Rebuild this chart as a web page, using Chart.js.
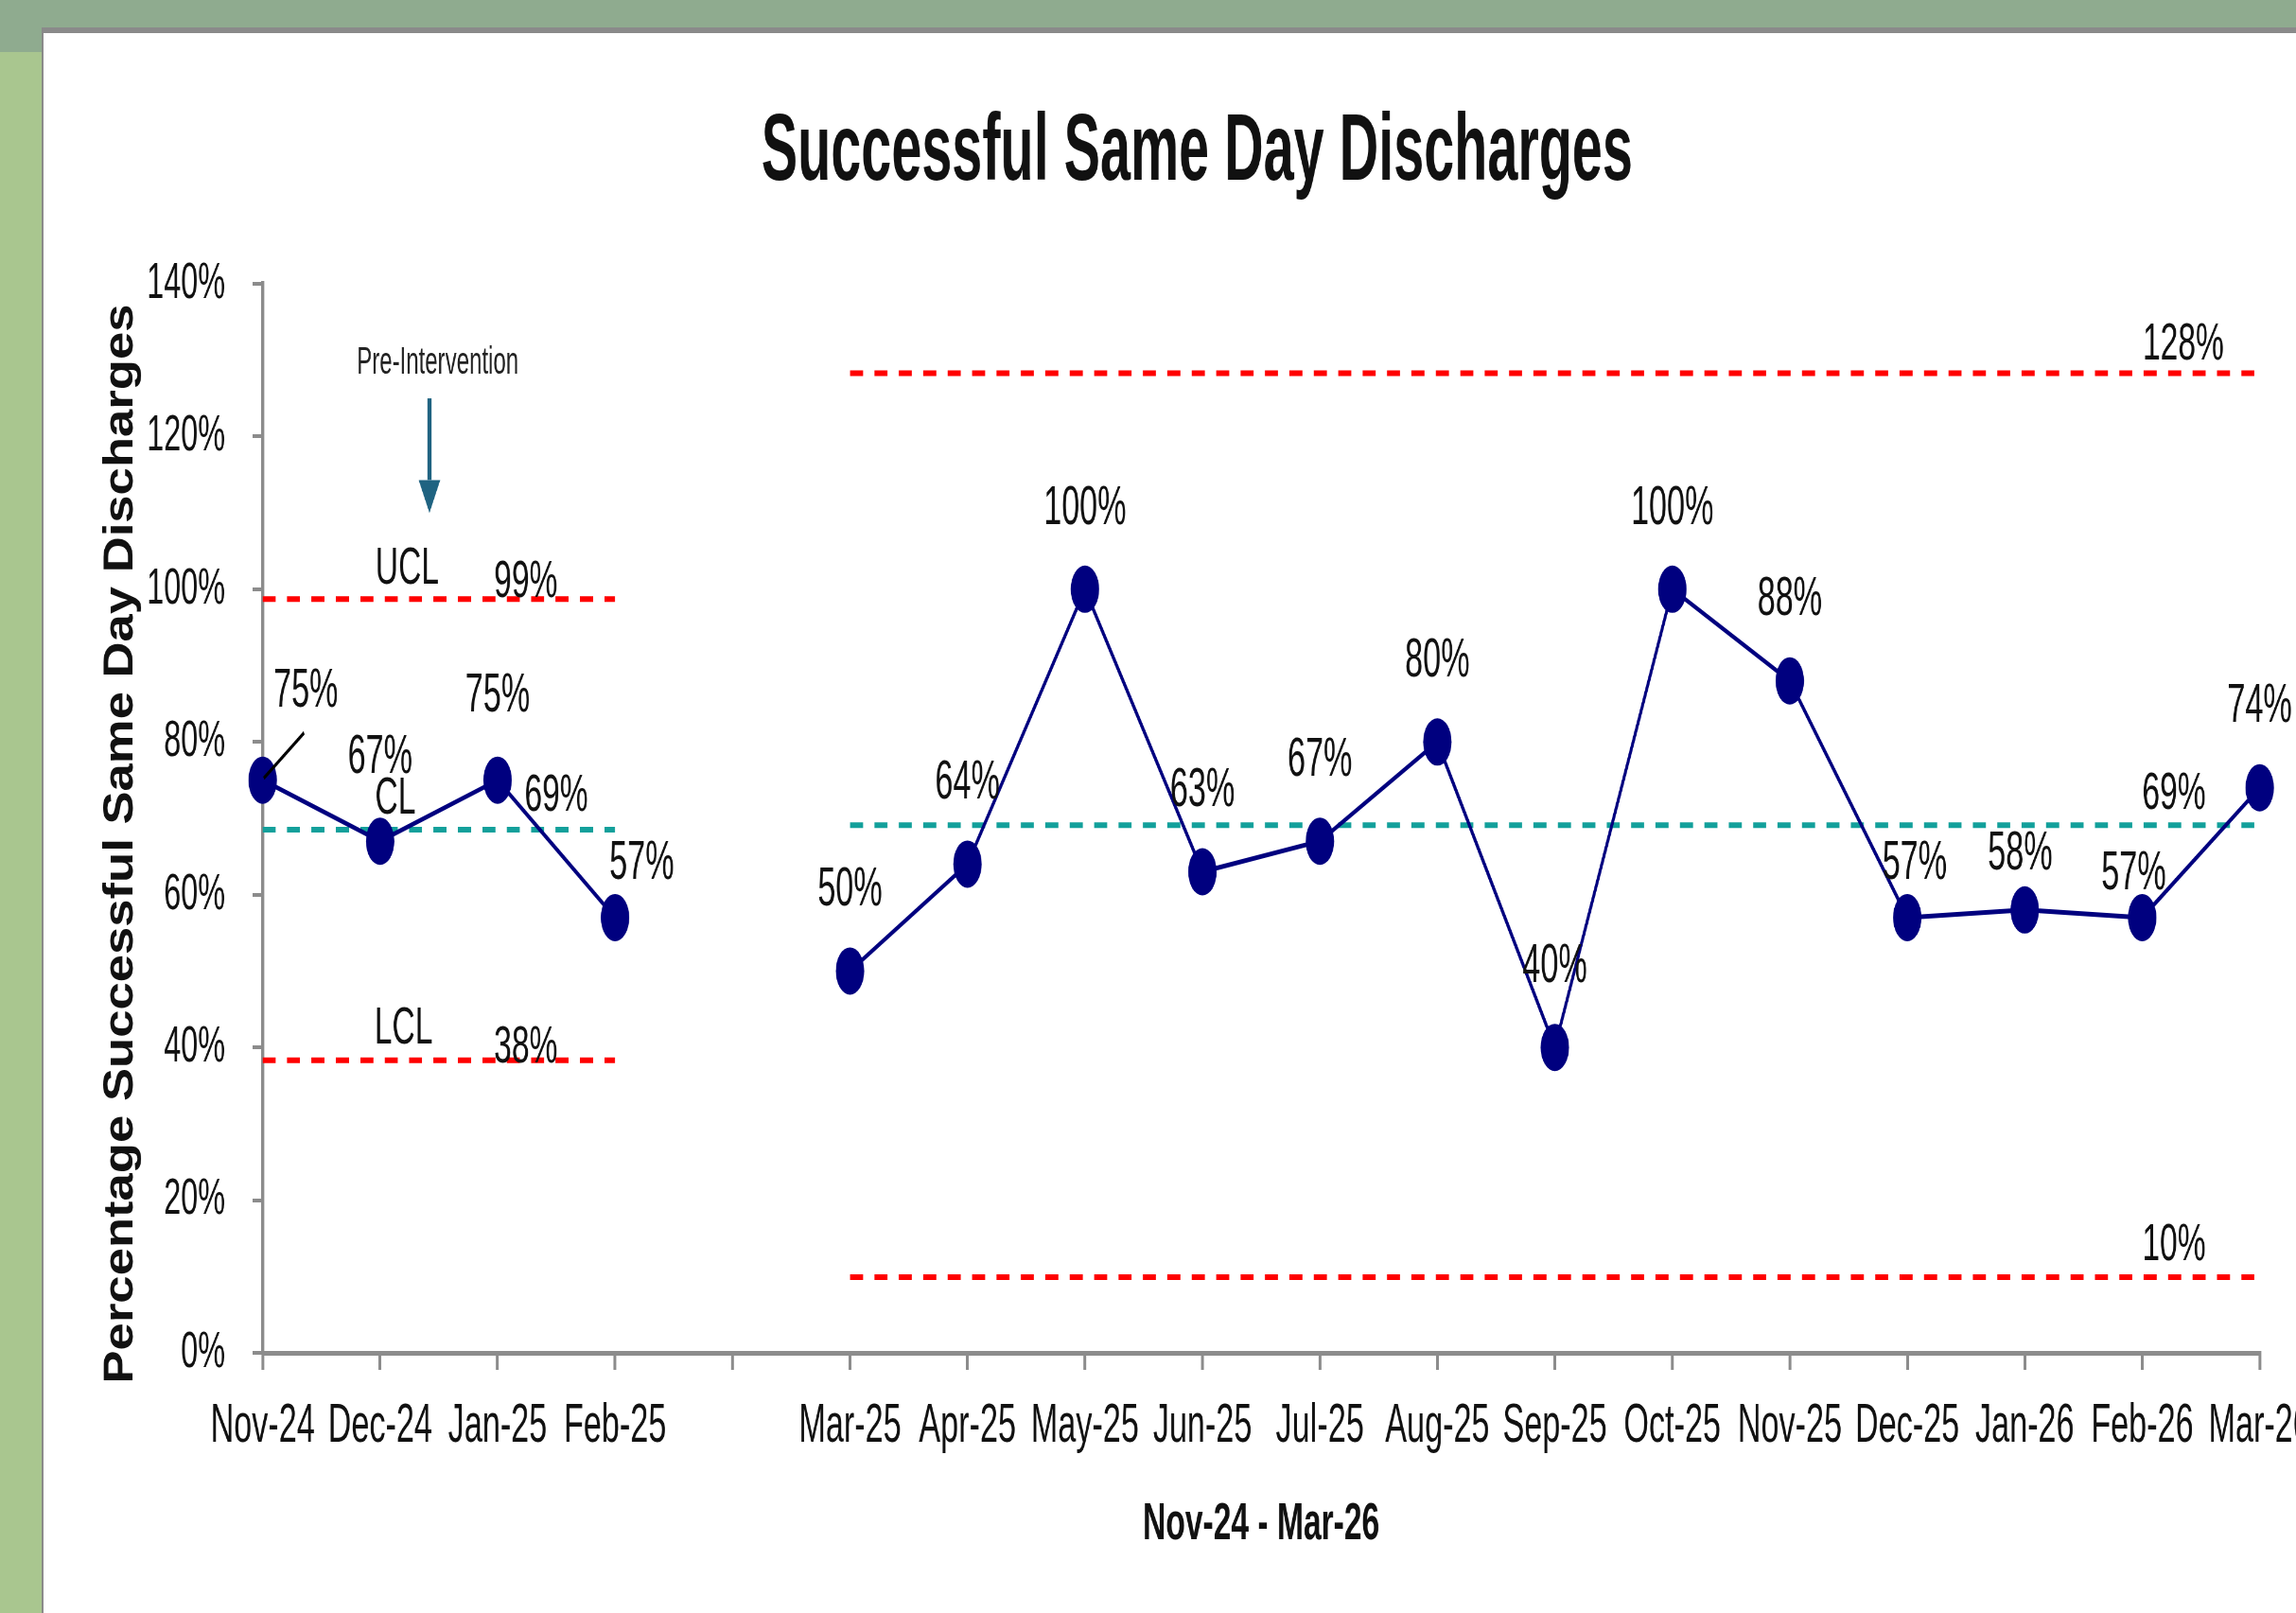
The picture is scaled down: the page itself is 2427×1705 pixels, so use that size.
<!DOCTYPE html>
<html>
<head>
<meta charset="utf-8">
<title>Successful Same Day Discharges</title>
<script src="https://cdn.jsdelivr.net/npm/chart.js@4.4.1/dist/chart.umd.min.js"></script>
<style>
  html, body { margin: 0; padding: 0; }
  body { width: 2427px; height: 1705px; background: #a9c68f; position: relative; overflow: hidden; }
  .top-band { position: absolute; left: 0; top: 0; width: 2427px; height: 29px; background: #8fab8f; }
  .corner { position: absolute; left: 0; top: 29px; width: 44px; height: 26px; background: #8fab8f; }
  .panel { position: absolute; left: 44px; top: 29px; right: 0; bottom: 0; background: #fff;
           border-top: 6px solid #8a8a8a; border-left: 2px solid #8a8a8a; }
  #spcChart { position: absolute; left: 46px; top: 35px; }
</style>
</head>
<body>
<div class="top-band"></div>
<div class="corner"></div>
<div class="panel"></div>
<!-- the picture is squeezed sideways, so the canvas is drawn wide and shown narrow -->
<canvas id="spcChart" width="3968" height="1670" style="width:2381px;height:1670px"></canvas>
<script>
const months = ["Nov-24", "Dec-24", "Jan-25", "Feb-25", "", "Mar-25", "Apr-25", "May-25", "Jun-25",
  "Jul-25", "Aug-25", "Sep-25", "Oct-25", "Nov-25", "Dec-25", "Jan-26", "Feb-26", "Mar-26"];

const rates = [75, 67, 75, 57, null, 50, 64, 100, 63, 67, 80, 40, 100, 88, 57, 58, 57, 74];

const uclValues = [98.7, 98.7, 98.7, 98.7, null, 128.3, 128.3, 128.3, 128.3, 128.3, 128.3, 128.3, 128.3, 128.3, 128.3, 128.3, 128.3, 128.3];
const clValues = [68.5, 68.5, 68.5, 68.5, null, 69.1, 69.1, 69.1, 69.1, 69.1, 69.1, 69.1, 69.1, 69.1, 69.1, 69.1, 69.1, 69.1];
const lclValues = [38.3, 38.3, 38.3, 38.3, null, 9.9, 9.9, 9.9, 9.9, 9.9, 9.9, 9.9, 9.9, 9.9, 9.9, 9.9, 9.9, 9.9];

const yTicks = [0, 20, 40, 60, 80, 100, 120, 140];

const FONT = "'Liberation Sans', Arial, sans-serif";
const NAVY = "#00007f";
const RED = "#ff0000";
const TEAL = "#13a09b";

// label nudges (canvas px) for data points whose labels sit off the default spot
const labelNudges = { 0: [76, -93], 1: [0, -88], 2: [0, -88], 3: [47, -57], 14: [13, -57], 15: [-8, -59], 16: [-15, -46] };

// control limit captions: x as category index, y as a percentage
const limitCaptions = [
  { text: "UCL", at: 1.23, value: 102.6 },
  { text: "99%", at: 2.24, value: 100.9 },
  { text: "CL", at: 1.13, value: 72.5 },
  { text: "69%", at: 2.5, value: 72.9 },
  { text: "LCL", at: 1.2, value: 42.4 },
  { text: "38%", at: 2.24, value: 39.9 },
  { text: "128%", at: 16.35, value: 132 },
  { text: "69%", at: 16.27, value: 73.2 },
  { text: "10%", at: 16.27, value: 14 }
];

const spcLabels = {
  id: "spcLabels",
  afterDraw(chart) {
    const ctx = chart.ctx;
    const x = chart.scales.x;
    const y = chart.scales.y;

    ctx.save();
    ctx.fillStyle = "#111";
    ctx.textAlign = "center";

    // chart title
    ctx.font = `bold 100px ${FONT}`;
    ctx.textBaseline = "alphabetic";
    ctx.fillText("Successful Same Day Discharges", 2032, 155, 1535);

    // x axis title
    ctx.font = `bold 56px ${FONT}`;
    ctx.fillText("Nov-24 - Mar-26", (x.left + x.right) / 2, 1592, 432);

    // y axis title
    ctx.save();
    ctx.translate(157, (y.top + y.bottom) / 2 + 27);
    ctx.rotate(-Math.PI / 2);
    ctx.font = `bold 74px ${FONT}`;
    ctx.fillText("Percentage Successful Same Day Discharges", 0, 0, 1141);
    ctx.restore();

    // data labels
    ctx.textBaseline = "middle";
    ctx.font = `57px ${FONT}`;
    rates.forEach((v, i) => {
      if (v === null) return;
      const [dx, dy] = labelNudges[i] || [0, -85];
      ctx.fillText(`${Math.round(v)}%`, x.getPixelForValue(i) + dx, y.getPixelForValue(v) + dy);
    });

    // leader line for the first label
    const px = x.getPixelForValue(0);
    const py = y.getPixelForValue(rates[0]);
    ctx.strokeStyle = "#000";
    ctx.lineWidth = 4;
    ctx.beginPath();
    ctx.moveTo(px + 2, py - 2);
    ctx.lineTo(px + 73, py - 50);
    ctx.stroke();

    // limit captions
    ctx.font = `56px ${FONT}`;
    limitCaptions.forEach((c) => {
      ctx.fillText(c.text, x.getPixelForValue(c.at), y.getPixelForValue(c.value));
    });

    // pre-intervention marker
    ctx.font = `40px ${FONT}`;
    ctx.fillStyle = "#222";
    ctx.fillText("Pre-Intervention", x.getPixelForValue(1.49), y.getPixelForValue(129.6), 300);

    const ax = x.getPixelForValue(1.42);
    const aTop = y.getPixelForValue(125);
    const aHead = y.getPixelForValue(114.3);
    const aTip = y.getPixelForValue(110);
    ctx.strokeStyle = "#1f6381";
    ctx.fillStyle = "#1f6381";
    ctx.lineWidth = 7;
    ctx.beginPath();
    ctx.moveTo(ax, aTop);
    ctx.lineTo(ax, aHead);
    ctx.stroke();
    ctx.beginPath();
    ctx.moveTo(ax - 19, aHead);
    ctx.lineTo(ax + 19, aHead);
    ctx.lineTo(ax, aTip);
    ctx.closePath();
    ctx.fill();

    ctx.restore();
  }
};

function limitLine(label, values, color) {
  return {
    label,
    data: values,
    borderColor: color,
    borderWidth: 6,
    borderDash: [23, 20],
    pointRadius: 0,
    pointHoverRadius: 0,
    spanGaps: false,
    fill: false
  };
}

new Chart(document.getElementById("spcChart"), {
  type: "line",
  data: {
    labels: months,
    datasets: [
      {
        label: "Successful same day discharges",
        data: rates,
        borderColor: NAVY,
        backgroundColor: NAVY,
        borderWidth: 5,
        pointRadius: 25,
        pointBorderWidth: 0,
        pointBackgroundColor: NAVY,
        spanGaps: false,
        tension: 0
      },
      limitLine("UCL", uclValues, RED),
      limitLine("CL", clValues, TEAL),
      limitLine("LCL", lclValues, RED)
    ]
  },
  options: {
    responsive: false,
    animation: false,
    devicePixelRatio: 1,
    layout: { padding: { left: 0, right: 64, top: 265, bottom: 0 } },
    plugins: {
      legend: { display: false },
      title: { display: false },
      tooltip: { enabled: false }
    },
    scales: {
      x: {
        type: "category",
        offset: false,
        grid: { drawOnChartArea: false, drawTicks: true, tickLength: 18, color: "#8c8c8c", lineWidth: 5 },
        border: { display: true, color: "#8c8c8c", width: 5 },
        ticks: {
          autoSkip: false,
          maxRotation: 0,
          minRotation: 0,
          padding: 26,
          color: "#111",
          font: { family: FONT, size: 57 }
        },
        afterFit(scale) {
          scale.height = 275;
          scale.paddingLeft = 0;
          scale.paddingRight = 0;
        }
      },
      y: {
        min: 0,
        max: 140,
        afterBuildTicks(scale) {
          scale.ticks = yTicks.map((v) => ({ value: v }));
        },
        grid: { drawOnChartArea: false, drawTicks: true, tickLength: 18, color: "#8c8c8c", lineWidth: 4 },
        border: { display: true, color: "#8c8c8c", width: 6 },
        ticks: {
          padding: 48,
          color: "#111",
          font: { family: FONT, size: 54 },
          callback: (v) => `${v}%`
        },
        afterFit(scale) {
          scale.width = 386;
          scale.paddingTop = 0;
          scale.paddingBottom = 0;
        }
      }
    }
  },
  plugins: [spcLabels]
});
</script>
</body>
</html>
